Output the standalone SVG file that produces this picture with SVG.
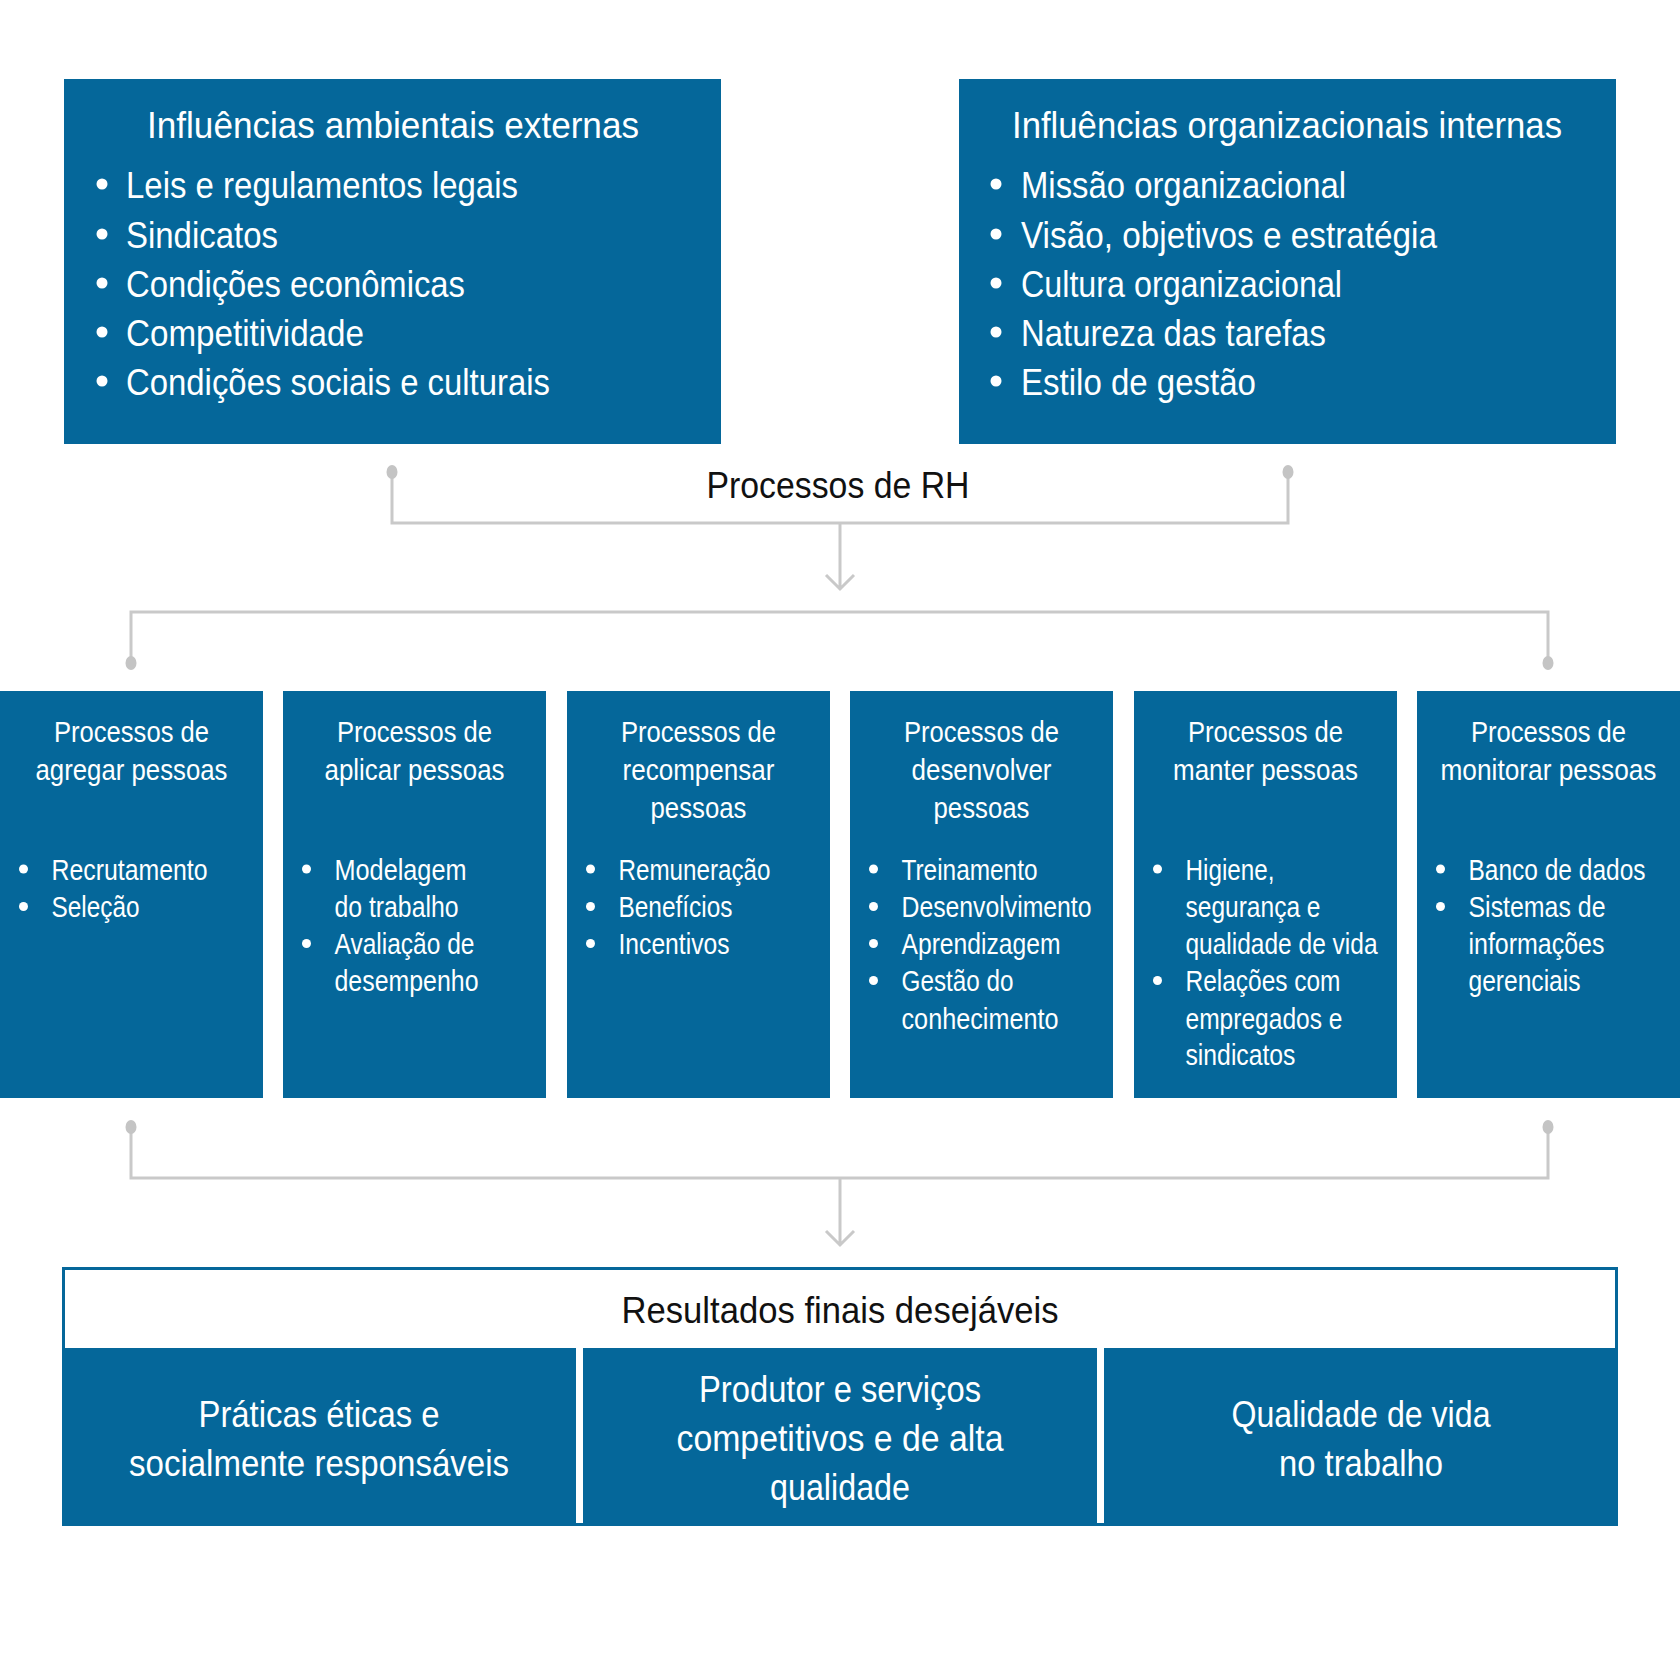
<svg xmlns="http://www.w3.org/2000/svg" width="1680" height="1680" viewBox="0 0 1680 1680">
<defs>
<style>
.box{fill:#05679A}
.t{font-family:"Liberation Sans Narrow","Liberation Sans",Arial,sans-serif;fill:#fff}
.big{font-size:37px}
.mid{font-size:29px}
.dark{fill:#111}
.c{text-anchor:middle}
.conn{fill:none;stroke:#c9c9c9;stroke-width:3}
.dot{fill:#c4c4c4}
.bl{fill:#fff}
</style>
</defs>
<rect width="1680" height="1680" fill="#fff"/>

<g id="externas">
<rect class="box" x="64" y="79" width="657" height="365"/>
<text class="t big c" x="393" y="138" textLength="492" lengthAdjust="spacingAndGlyphs">Influências ambientais externas</text>
<circle class="bl" cx="102" cy="184" r="5.5"/><text class="t big" x="126" y="198" textLength="392" lengthAdjust="spacingAndGlyphs">Leis e regulamentos legais</text>
<circle class="bl" cx="102" cy="234" r="5.5"/><text class="t big" x="126" y="248" textLength="152" lengthAdjust="spacingAndGlyphs">Sindicatos</text>
<circle class="bl" cx="102" cy="283" r="5.5"/><text class="t big" x="126" y="297" textLength="339" lengthAdjust="spacingAndGlyphs">Condições econômicas</text>
<circle class="bl" cx="102" cy="332" r="5.5"/><text class="t big" x="126" y="346" textLength="238" lengthAdjust="spacingAndGlyphs">Competitividade</text>
<circle class="bl" cx="102" cy="381" r="5.5"/><text class="t big" x="126" y="395" textLength="424" lengthAdjust="spacingAndGlyphs">Condições sociais e culturais</text>
</g>

<g id="internas">
<rect class="box" x="959" y="79" width="657" height="365"/>
<text class="t big c" x="1287" y="138" textLength="550" lengthAdjust="spacingAndGlyphs">Influências organizacionais internas</text>
<circle class="bl" cx="996" cy="184" r="5.5"/><text class="t big" x="1021" y="198" textLength="325" lengthAdjust="spacingAndGlyphs">Missão organizacional</text>
<circle class="bl" cx="996" cy="234" r="5.5"/><text class="t big" x="1021" y="248" textLength="416" lengthAdjust="spacingAndGlyphs">Visão, objetivos e estratégia</text>
<circle class="bl" cx="996" cy="283" r="5.5"/><text class="t big" x="1021" y="297" textLength="321" lengthAdjust="spacingAndGlyphs">Cultura organizacional</text>
<circle class="bl" cx="996" cy="332" r="5.5"/><text class="t big" x="1021" y="346" textLength="305" lengthAdjust="spacingAndGlyphs">Natureza das tarefas</text>
<circle class="bl" cx="996" cy="381" r="5.5"/><text class="t big" x="1021" y="395" textLength="235" lengthAdjust="spacingAndGlyphs">Estilo de gestão</text>
</g>

<g id="processos-rh">
<text class="t big c dark" x="838" y="498" textLength="263" lengthAdjust="spacingAndGlyphs">Processos de RH</text>
</g>

<g id="connectors">
<path class="conn" d="M392,476 V523 H1288 V476"/>
<ellipse class="dot" cx="392" cy="472" rx="5.5" ry="7"/>
<ellipse class="dot" cx="1288" cy="472" rx="5.5" ry="7"/>
<path class="conn" d="M840,523 V588 M826,575 L840,589 L854,575"/>
<path class="conn" d="M131,659 V612 H1548 V659"/>
<ellipse class="dot" cx="131" cy="663" rx="5.5" ry="7"/>
<ellipse class="dot" cx="1548" cy="663" rx="5.5" ry="7"/>
<path class="conn" d="M131,1131 V1178 H1548 V1131"/>
<ellipse class="dot" cx="131" cy="1127" rx="5.5" ry="7"/>
<ellipse class="dot" cx="1548" cy="1127" rx="5.5" ry="7"/>
<path class="conn" d="M840,1178 V1244 M826,1231 L840,1245 L854,1231"/>
</g>

<g id="agregar">
<rect class="box" x="0" y="691" width="263" height="407"/>
<text class="t mid c" x="131.5" y="742" textLength="155" lengthAdjust="spacingAndGlyphs">Processos de</text>
<text class="t mid c" x="131.5" y="780" textLength="192" lengthAdjust="spacingAndGlyphs">agregar pessoas</text>
<circle class="bl" cx="23.5" cy="869" r="4.5"/><text class="t mid" x="51.5" y="879.5" textLength="156" lengthAdjust="spacingAndGlyphs">Recrutamento</text>
<circle class="bl" cx="23.5" cy="906.5" r="4.5"/><text class="t mid" x="51.5" y="917" textLength="88" lengthAdjust="spacingAndGlyphs">Seleção</text>
</g>

<g id="aplicar">
<rect class="box" x="283" y="691" width="263" height="407"/>
<text class="t mid c" x="414.5" y="742" textLength="155" lengthAdjust="spacingAndGlyphs">Processos de</text>
<text class="t mid c" x="414.5" y="780" textLength="180" lengthAdjust="spacingAndGlyphs">aplicar pessoas</text>
<circle class="bl" cx="306.5" cy="869" r="4.5"/><text class="t mid" x="334.5" y="879.5" textLength="132" lengthAdjust="spacingAndGlyphs">Modelagem</text>
<text class="t mid" x="334.5" y="917" textLength="124" lengthAdjust="spacingAndGlyphs">do trabalho</text>
<circle class="bl" cx="306.5" cy="943.5" r="4.5"/><text class="t mid" x="334.5" y="954" textLength="140" lengthAdjust="spacingAndGlyphs">Avaliação de</text>
<text class="t mid" x="334.5" y="991" textLength="144" lengthAdjust="spacingAndGlyphs">desempenho</text>
</g>

<g id="recompensar">
<rect class="box" x="567" y="691" width="263" height="407"/>
<text class="t mid c" x="698.5" y="742" textLength="155" lengthAdjust="spacingAndGlyphs">Processos de</text>
<text class="t mid c" x="698.5" y="780" textLength="152" lengthAdjust="spacingAndGlyphs">recompensar</text>
<text class="t mid c" x="698.5" y="817.5" textLength="96" lengthAdjust="spacingAndGlyphs">pessoas</text>
<circle class="bl" cx="590.5" cy="869" r="4.5"/><text class="t mid" x="618.5" y="879.5" textLength="152" lengthAdjust="spacingAndGlyphs">Remuneração</text>
<circle class="bl" cx="590.5" cy="906.5" r="4.5"/><text class="t mid" x="618.5" y="917" textLength="114" lengthAdjust="spacingAndGlyphs">Benefícios</text>
<circle class="bl" cx="590.5" cy="943.5" r="4.5"/><text class="t mid" x="618.5" y="954" textLength="111" lengthAdjust="spacingAndGlyphs">Incentivos</text>
</g>

<g id="desenvolver">
<rect class="box" x="850" y="691" width="263" height="407"/>
<text class="t mid c" x="981.5" y="742" textLength="155" lengthAdjust="spacingAndGlyphs">Processos de</text>
<text class="t mid c" x="981.5" y="780" textLength="140" lengthAdjust="spacingAndGlyphs">desenvolver</text>
<text class="t mid c" x="981.5" y="817.5" textLength="96" lengthAdjust="spacingAndGlyphs">pessoas</text>
<circle class="bl" cx="873.5" cy="869" r="4.5"/><text class="t mid" x="901.5" y="879.5" textLength="136" lengthAdjust="spacingAndGlyphs">Treinamento</text>
<circle class="bl" cx="873.5" cy="906.5" r="4.5"/><text class="t mid" x="901.5" y="917" textLength="190" lengthAdjust="spacingAndGlyphs">Desenvolvimento</text>
<circle class="bl" cx="873.5" cy="943.5" r="4.5"/><text class="t mid" x="901.5" y="954" textLength="159" lengthAdjust="spacingAndGlyphs">Aprendizagem</text>
<circle class="bl" cx="873.5" cy="980.5" r="4.5"/><text class="t mid" x="901.5" y="991" textLength="112" lengthAdjust="spacingAndGlyphs">Gestão do</text>
<text class="t mid" x="901.5" y="1028.5" textLength="157" lengthAdjust="spacingAndGlyphs">conhecimento</text>
</g>

<g id="manter">
<rect class="box" x="1134" y="691" width="263" height="407"/>
<text class="t mid c" x="1265.5" y="742" textLength="155" lengthAdjust="spacingAndGlyphs">Processos de</text>
<text class="t mid c" x="1265.5" y="780" textLength="185" lengthAdjust="spacingAndGlyphs">manter pessoas</text>
<circle class="bl" cx="1157.5" cy="869" r="4.5"/><text class="t mid" x="1185.5" y="879.5" textLength="89" lengthAdjust="spacingAndGlyphs">Higiene,</text>
<text class="t mid" x="1185.5" y="917" textLength="135" lengthAdjust="spacingAndGlyphs">segurança e</text>
<text class="t mid" x="1185.5" y="954" textLength="192" lengthAdjust="spacingAndGlyphs">qualidade de vida</text>
<circle class="bl" cx="1157.5" cy="980.5" r="4.5"/><text class="t mid" x="1185.5" y="991" textLength="155" lengthAdjust="spacingAndGlyphs">Relações com</text>
<text class="t mid" x="1185.5" y="1028.5" textLength="157" lengthAdjust="spacingAndGlyphs">empregados e</text>
<text class="t mid" x="1185.5" y="1065" textLength="110" lengthAdjust="spacingAndGlyphs">sindicatos</text>
</g>

<g id="monitorar">
<rect class="box" x="1417" y="691" width="263" height="407"/>
<text class="t mid c" x="1548.5" y="742" textLength="155" lengthAdjust="spacingAndGlyphs">Processos de</text>
<text class="t mid c" x="1548.5" y="780" textLength="216" lengthAdjust="spacingAndGlyphs">monitorar pessoas</text>
<circle class="bl" cx="1440.5" cy="869" r="4.5"/><text class="t mid" x="1468.5" y="879.5" textLength="177" lengthAdjust="spacingAndGlyphs">Banco de dados</text>
<circle class="bl" cx="1440.5" cy="906.5" r="4.5"/><text class="t mid" x="1468.5" y="917" textLength="137" lengthAdjust="spacingAndGlyphs">Sistemas de</text>
<text class="t mid" x="1468.5" y="954" textLength="136" lengthAdjust="spacingAndGlyphs">informações</text>
<text class="t mid" x="1468.5" y="991" textLength="112" lengthAdjust="spacingAndGlyphs">gerenciais</text>
</g>

<g id="resultados">
<rect x="63.5" y="1268.5" width="1553" height="256" fill="#fff" stroke="#05679A" stroke-width="3"/>
<text class="t big c dark" x="840" y="1323" textLength="437" lengthAdjust="spacingAndGlyphs">Resultados finais desejáveis</text>
</g>

<g id="praticas">
<rect class="box" x="62" y="1348" width="514" height="177"/>
<text class="t big c" x="319" y="1427" textLength="241" lengthAdjust="spacingAndGlyphs">Práticas éticas e</text>
<text class="t big c" x="319" y="1476" textLength="380" lengthAdjust="spacingAndGlyphs">socialmente responsáveis</text>
</g>

<g id="produtor">
<rect class="box" x="583" y="1348" width="514" height="177"/>
<text class="t big c" x="840" y="1401.5" textLength="282" lengthAdjust="spacingAndGlyphs">Produtor e serviços</text>
<text class="t big c" x="840" y="1451" textLength="327" lengthAdjust="spacingAndGlyphs">competitivos e de alta</text>
<text class="t big c" x="840" y="1500" textLength="140" lengthAdjust="spacingAndGlyphs">qualidade</text>
</g>

<g id="qualidade">
<rect class="box" x="1104" y="1348" width="514" height="177"/>
<text class="t big c" x="1361" y="1427" textLength="259" lengthAdjust="spacingAndGlyphs">Qualidade de vida</text>
<text class="t big c" x="1361" y="1476" textLength="164" lengthAdjust="spacingAndGlyphs">no trabalho</text>
</g>
</svg>
